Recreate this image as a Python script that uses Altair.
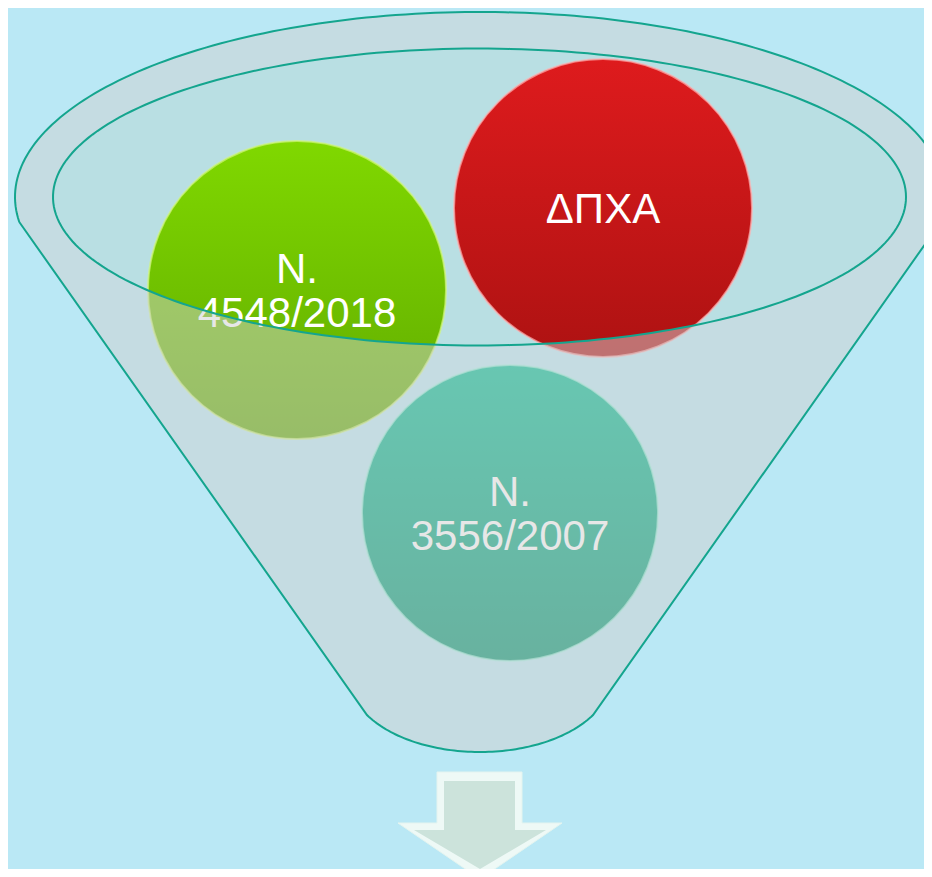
import altair as alt
import numpy as np
import pandas as pd

# ---------------- page / canvas ----------------
PAGE_W, PAGE_H, MARGIN = 932, 877, 8
W, H = PAGE_W - 2 * MARGIN, PAGE_H - 2 * MARGIN
BG = "#BAE8F5"
LINE = "#14A58E"

# ---------------- circles (diagram items) ----------------
labels = ["N.\n4548/2018", "ΔΠΧΑ", "N.\n3556/2007"]
centre_x = [297, 603, 510]
centre_y = [290, 208, 513]
radius = [149, 149, 148]
top_col = ["#80D800", "#DE1B1D", "#00BE94"]
bot_col = ["#60AA00", "#AE1212", "#00946F"]
rim_col = ["#D2F77A", "#FFB0B0", "#A0F2E0"]

# ---------------- funnel geometry ----------------
outer_ellipse = [480, 197, 465, 185]      # cx, cy, rx, ry
inner_ellipse = [479.5, 197, 426.5, 148.5]
bottom_ellipse = [480, 678, 130.5, 74]
bottom_angle = np.pi / 6
kink_y = 222

# ---------------- arrow ----------------
arrow_x = [437, 522, 522, 562, 480, 398, 437]
arrow_y = [772, 772, 823, 823, 879, 823, 823]
arrow_in_x = [444, 515, 515, 546, 480, 414, 444]
arrow_in_y = [781, 781, 830, 830, 869, 830, 830]


def arc(e, t0, t1, n=160):
    t = np.linspace(t0, t1, n)
    xs = e[0] + e[2] * np.cos(t)
    ys = e[1] - e[3] * np.sin(t)
    return [[float(a), float(b)] for a, b in zip(xs, ys)]


a = float(np.arcsin((kink_y - outer_ellipse[1]) / outer_ellipse[3]))
outer_ring = (arc(outer_ellipse, np.pi + a, -a)
              + arc(bottom_ellipse, -bottom_angle, -np.pi + bottom_angle, 80))
outer_ring.append(outer_ring[0])
inner_ring = arc(inner_ellipse, 0, 2 * np.pi, 240)
inner_ring[-1] = inner_ring[0]

arrow_ring = [[x, y] for x, y in zip(arrow_x, arrow_y)] + [[arrow_x[0], arrow_y[0]]]
arrow_in_ring = [[x, y] for x, y in zip(arrow_in_x, arrow_in_y)] + [[arrow_in_x[0], arrow_in_y[0]]]


def shape(geom, **mark):
    feat = {"type": "Feature", "geometry": geom, "properties": {}}
    return (alt.Chart(alt.Data(values=[feat]))
            .mark_geoshape(clip=True, **mark)
            .project(type="identity", scale=1, translate=[-MARGIN, -MARGIN]))


inner_fill = shape({"type": "Polygon", "coordinates": [inner_ring]},
                   fill="#B9DFE3", stroke=None, strokeWidth=0)

band = shape({"type": "Polygon", "coordinates": [outer_ring, inner_ring]},
             fill="#D0D0D0", fillOpacity=0.5, stroke=None, strokeWidth=0)

outer_line = shape({"type": "LineString", "coordinates": outer_ring},
                   filled=False, fill=None, stroke=LINE, strokeWidth=2)
inner_line = shape({"type": "LineString", "coordinates": inner_ring},
                   filled=False, fill=None, stroke=LINE, strokeWidth=2)

arrow_outer = shape({"type": "Polygon", "coordinates": [arrow_ring]},
                    fill="#EEF9F6", stroke="#E4F4EF", strokeWidth=1)
arrow_inner = shape({"type": "Polygon", "coordinates": [arrow_in_ring]},
                    fill="#CCE3DB", stroke=None, strokeWidth=0)

# ---------------- circles + labels ----------------
df = pd.DataFrame({"label": labels, "cx": centre_x, "cy": centre_y, "r": radius})
xs = alt.Scale(domain=[MARGIN, MARGIN + W], nice=False, zero=False)
ys = alt.Scale(domain=[MARGIN + H, MARGIN], nice=False, zero=False)

circles = []
for i, lab in enumerate(labels):
    grad = alt.Gradient(gradient="linear", x1=0, x2=0, y1=0, y2=1,
                        stops=[alt.GradientStop(color=top_col[i], offset=0),
                               alt.GradientStop(color=bot_col[i], offset=1)])
    c = (alt.Chart(df)
         .transform_filter(alt.datum.label == lab)
         .transform_calculate(area="4 * datum.r * datum.r")
         .mark_circle(fill=grad, opacity=1, fillOpacity=1,
                      stroke=rim_col[i], strokeWidth=2, strokeOpacity=0.7)
         .encode(x=alt.X("cx:Q", scale=xs, axis=None),
                 y=alt.Y("cy:Q", scale=ys, axis=None),
                 size=alt.Size("area:Q", scale=None, legend=None)))
    circles.append(c)

LH = 44
texts = (alt.Chart(df)
         .transform_calculate(
             ty=f"datum.cy + 2 - (split(datum.label, '\\n').length - 1) * {LH / 2}")
         .mark_text(font="Liberation Sans", fontSize=42, color="white",
                    lineBreak="\n", lineHeight=LH, baseline="middle",
                    align="center")
         .encode(x=alt.X("cx:Q", scale=xs, axis=None),
                 y=alt.Y("ty:Q", scale=ys, axis=None),
                 text="label:N"))

chart = (alt.layer(inner_fill, *circles, texts, band, outer_line, inner_line,
                   arrow_outer, arrow_inner)
         .properties(width=W, height=H, background=BG, padding=0,
                     autosize=alt.AutoSizeParams(type="none"))
         .configure_view(stroke=None))

chart.save("out.html", embed_options={"renderer": "svg", "actions": False})
